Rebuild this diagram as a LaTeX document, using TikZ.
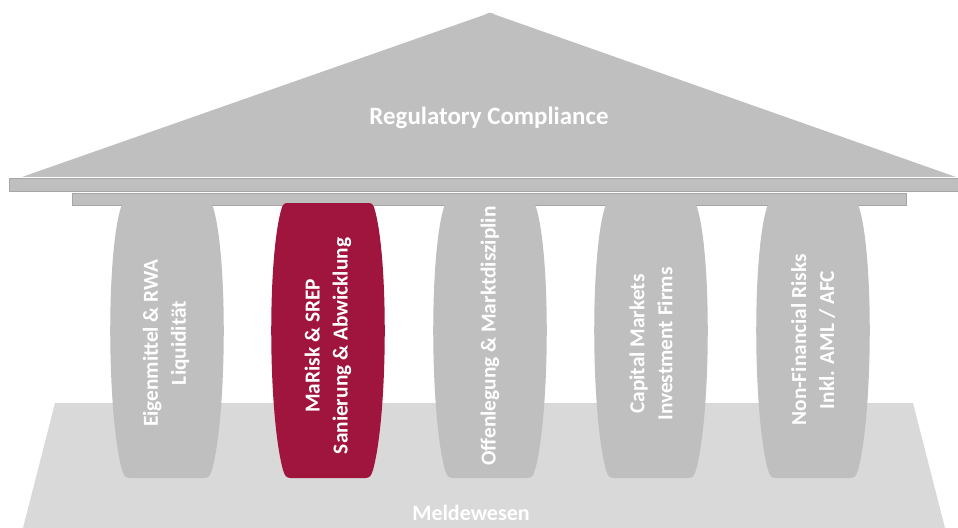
\documentclass[tikz,border=0pt]{standalone}
\usepackage{fontspec}
\setmainfont{Carlito}
\definecolor{pillargray}{HTML}{BFBFBF}
\definecolor{basegray}{HTML}{D9D9D9}
\definecolor{edgegray}{HTML}{A6A6A6}
\definecolor{accent}{HTML}{A0153E}
\begin{document}
\begin{tikzpicture}[x=0.75pt,y=-0.75pt,
  roof/.style={fill=pillargray,draw=none},
  beam/.style={fill=pillargray,draw=edgegray,line width=0.6pt},
  basis/.style={fill=basegray,draw=none},
  pillarshape/.style={fill=pillargray,draw=none},
  pillartext/.style={text=white,font=\bfseries\fontsize{16}{21}\selectfont,align=center,rotate=90,inner sep=0pt},
  bigtext/.style={text=white,font=\bfseries\fontsize{18.7}{22}\selectfont,inner sep=0pt},
  basetext/.style={text=white,font=\bfseries\fontsize{16.5}{19}\selectfont,inner sep=0pt}]
\useasboundingbox (0,0) rectangle (958,528);
% base
\fill[basis] (55,403) -- (913,403) -- (945,528) -- (23,528) -- cycle;
% roof
\fill[roof] (22,177) -- (484,15) .. controls (490,12) .. (496,15) -- (956,177) -- cycle;
% beam and capital
\draw[beam] (9,178.5) rectangle (960,191);
\draw[beam] (72,193) rectangle (906,205);
% pillars
\foreach \cx/\col/\nm in {167/pillargray/p1, 328/accent/p2, 490/pillargray/p3, 651/pillargray/p4, 813/pillargray/p5}{
  \fill[pillarshape,fill=\col]
    (\cx-39,203) .. controls (\cx-44,203) and (\cx-45,204) .. (\cx-46,207)
    .. controls (\cx-61,255) and (\cx-60,415) .. (\cx-45,470)
    .. controls (\cx-43,476) and (\cx-42,478) .. (\cx-37,478)
    -- (\cx+37,478)
    .. controls (\cx+42,478) and (\cx+43,476) .. (\cx+45,470)
    .. controls (\cx+60,415) and (\cx+61,255) .. (\cx+46,207)
    .. controls (\cx+45,204) and (\cx+44,203) .. (\cx+39,203) -- cycle;
}
% texts
\node[bigtext] (roofText) at (489,118) {Regulatory Compliance};
\node[basetext] (baseText) at (471,513) {Meldewesen};
\node[pillartext] (t1) at (166,343) {Eigenmittel \& RWA\\Liquidität};
\node[pillartext] (t2) at (328,346) {MaRisk \& SREP\\Sanierung \& Abwicklung};
\node[pillartext] (t3) at (490,336) {Offenlegung \& Marktdisziplin};
\node[pillartext] (t4) at (651,344) {Capital Markets\\Investment Firms};
\node[pillartext] (t5) at (813,340) {Non-Financial Risks\\Inkl. AML / AFC};
\end{tikzpicture}
\end{document}
